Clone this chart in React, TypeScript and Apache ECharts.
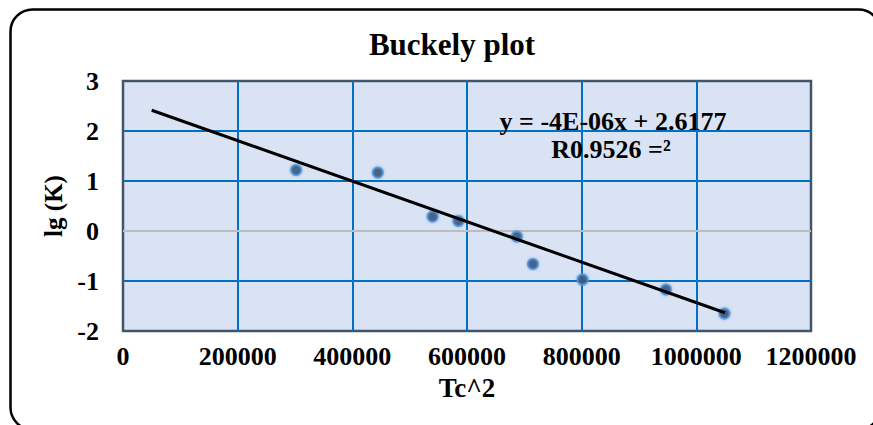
import React, { useEffect, useRef } from "react";
import * as echarts from "echarts";

// Buckley plot: lg(K) against Tc^2 with a linear trend line
const tcSquared = [302000, 444500, 540000, 585000, 687000, 715000, 801600, 947000, 1049000];
const lgK = [1.22, 1.17, 0.29, 0.2, -0.11, -0.66, -0.97, -1.17, -1.65];

// Trend line y = a*x + b (slope shown rounded as -4E-06)
const trendSlope = -4.05e-6;
const trendIntercept = 2.6177;
const trendRange = [50000, 1050000];

const equationText = "y = -4E-06x + 2.6177";
const rSquaredText = "R0.9526 =²";

const xTicks = { min: 0, max: 1200000, interval: 200000 };
const yTicks = { min: -2, max: 3, interval: 1 };

const FONT = "'Liberation Serif', 'Times New Roman', serif";

export default function App() {
  const ref = useRef<HTMLDivElement>(null);

  useEffect(() => {
    if (!ref.current) return;
    const chart = echarts.init(ref.current, null, { renderer: "svg" });

    const points = tcSquared.map((x, i) => [x, lgK[i]]);
    const trend = trendRange.map((x) => [x, trendSlope * x + trendIntercept]);

    const labelStyle = {
      fontFamily: FONT,
      fontWeight: "bold" as const,
      fontSize: 26,
      color: "#000",
    };

    chart.setOption({
      animation: false,
      backgroundColor: "#fff",
      title: {
        text: "Buckely plot",
        left: 447,
        top: 24,
        textAlign: "center",
        textStyle: { fontFamily: FONT, fontWeight: "bold", fontSize: 31, color: "#000" },
      },
      grid: {
        left: 123,
        top: 81,
        right: 62,
        bottom: 94,
        show: true,
        backgroundColor: "#DAE3F3",
        borderColor: "#44546A",
        borderWidth: 2.5,
        outerBoundsMode: "none",
      },
      xAxis: {
        type: "value",
        min: xTicks.min,
        max: xTicks.max,
        interval: xTicks.interval,
        name: "Tc^2",
        nameLocation: "middle",
        nameGap: 43,
        nameTextStyle: { ...labelStyle, fontSize: 27 },
        axisLine: { show: false },
        axisTick: { show: false },
        axisLabel: { ...labelStyle, margin: 12, formatter: (v: number) => String(v) },
        splitLine: {
          show: true,
          showMinLine: false,
          showMaxLine: false,
          lineStyle: { color: "#0070C0", width: 2 },
        },
      },
      yAxis: {
        type: "value",
        min: yTicks.min,
        max: yTicks.max,
        interval: yTicks.interval,
        name: "lg (K)",
        nameLocation: "middle",
        nameGap: 52,
        nameTextStyle: { ...labelStyle, fontSize: 25 },
        axisLine: { show: false },
        axisTick: { show: false },
        axisLabel: { ...labelStyle, margin: 24 },
        splitLine: {
          show: true,
          showMinLine: false,
          showMaxLine: false,
          lineStyle: { color: "#0070C0", width: 2 },
        },
      },
      series: [
        {
          type: "scatter",
          data: points,
          symbolSize: 10,
          z: 4,
          itemStyle: {
            color: "#3A4A66",
            borderColor: "#4F94DA",
            borderWidth: 2,
            shadowBlur: 3,
            shadowColor: "rgba(79,148,218,0.8)",
          },
          markLine: {
            silent: true,
            symbol: "none",
            label: { show: false },
            lineStyle: { color: "#BDBDBD", width: 2, type: "solid" },
            data: [{ yAxis: 0 }],
            z: 2,
          },
        },
        {
          type: "line",
          data: trend,
          showSymbol: false,
          symbol: "none",
          z: 5,
          lineStyle: { color: "#000", width: 3 },
        },
      ],
      graphic: [
        {
          type: "rect",
          shape: { x: 10.5, y: 9.5, width: 870, height: 420, r: 22 },
          style: { fill: "none", stroke: "#000", lineWidth: 2.5 },
          silent: true,
        },
        {
          type: "text",
          x: 613,
          y: 121,
          z: 10,
          style: {
            text: equationText,
            fontFamily: FONT,
            fontWeight: "bold",
            fontSize: 26,
            fill: "#000",
            align: "center",
            verticalAlign: "middle",
          },
        },
        {
          type: "text",
          x: 611,
          y: 149,
          z: 10,
          style: {
            text: rSquaredText,
            fontFamily: FONT,
            fontWeight: "bold",
            fontSize: 26,
            fill: "#000",
            align: "center",
            verticalAlign: "middle",
          },
        },
      ],
    });

    return () => chart.dispose();
  }, []);

  return (
    <div
      ref={ref}
      style={{ position: "fixed", left: 0, top: 0, width: 873, height: 425 }}
    />
  );
}
